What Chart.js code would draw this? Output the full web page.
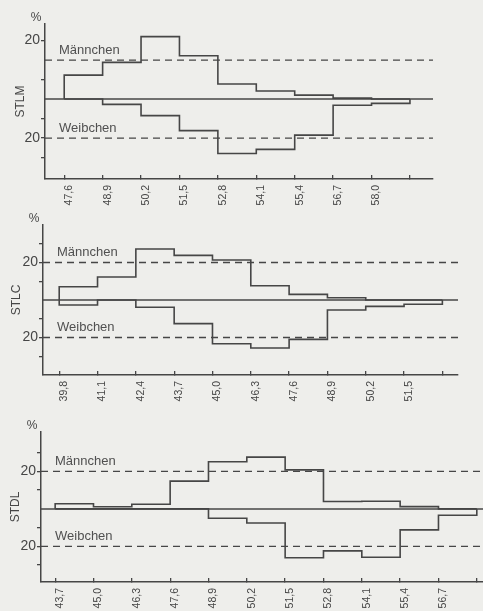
<!DOCTYPE html>
<html>
<head>
<meta charset="utf-8">
<script src="https://cdn.jsdelivr.net/npm/chart.js@4"></script>
<style>
  body { margin: 0; background: #eeeeeb; }
  #wrap { position: relative; width: 483px; height: 611px; }
  canvas { position: absolute; left: 0; top: 0; }
</style>
</head>
<body>
<div id="wrap">
  <canvas id="stlm" width="483" height="611"></canvas>
  <canvas id="stlc" width="483" height="611"></canvas>
  <canvas id="stdl" width="483" height="611"></canvas>
</div>
<script>
// bin edges / x tick values (measurement classes)
var stlmTickValues = [47.6, 48.9, 50.2, 51.5, 52.8, 54.1, 55.4, 56.7, 58.0, 59.3];
var stlmTickLabels = ["47,6", "48,9", "50,2", "51,5", "52,8", "54,1", "55,4", "56,7", "58,0", ""];
var stlmMale = [12.3, 18.8, 32.0, 22.2, 7.7, 4.1, 2.0, 0.5, 0];
var stlmFemale = [0, 2.7, 8.5, 16.2, 27.9, 25.8, 18.5, 3.2, 2.2];

var stlcTickValues = [39.8, 41.1, 42.4, 43.7, 45.0, 46.3, 47.6, 48.9, 50.2, 51.5, 52.8];
var stlcTickLabels = ["39,8", "41,1", "42,4", "43,7", "45,0", "46,3", "47,6", "48,9", "50,2", "51,5", ""];
var stlcMale = [7.1, 12.3, 27.2, 23.8, 21.3, 7.6, 3.0, 1.2, 0, 0];
var stlcFemale = [2.7, 0, 3.9, 12.6, 23.3, 25.6, 21.0, 5.3, 3.4, 2.3];

var stdlTickValues = [43.7, 45.0, 46.3, 47.6, 48.9, 50.2, 51.5, 52.8, 54.1, 55.4, 56.7, 58.0];
var stdlTickLabels = ["43,7", "45,0", "46,3", "47,6", "48,9", "50,2", "51,5", "52,8", "54,1", "55,4", "56,7", ""];
var stdlMale = [2.7, 1.1, 2.5, 14.8, 25.1, 27.6, 20.8, 3.9, 4.1, 1.2, 0];
var stdlFemale = [0, 0, 0, 0, 5.0, 7.5, 26.1, 22.4, 25.8, 11.2, 3.4];

// y ticks: males up, females down
var stlmYTicks = [30, 10, -10, -20, -30];
var stlmYLabels = ["20", "", "", "20", ""];
var yTicks = [30, 20, 10, -10, -20, -30];
var yLabels = ["", "20", "", "", "20", ""];

var refLevel = 20;
var seriesNames = ["Männchen", "Weibchen"];

var ink = "#464646";
Chart.defaults.font.family = "'Liberation Sans', Arial, sans-serif";
Chart.defaults.color = ink;

// outline of a step histogram: up at first edge, down at last edge
function outline(edges, values, sign) {
  var pts = [{ x: edges[0], y: 0 }];
  for (var i = 0; i < values.length; i++) {
    pts.push({ x: edges[i], y: sign * values[i] });
  }
  pts.push({ x: edges[values.length], y: 0 });
  return pts;
}

function flat(xmin, xmax, y) {
  return [{ x: xmin, y: y }, { x: xmax, y: y }];
}

var labelsPlugin = {
  id: "panelText",
  afterDraw: function (chart) {
    var ctx = chart.ctx;
    var a = chart.chartArea;
    var y = chart.scales.y;
    ctx.save();
    ctx.fillStyle = ink;
    ctx.textBaseline = "middle";
    ctx.textAlign = "center";
    ctx.font = "12px 'Liberation Sans', Arial, sans-serif";
    ctx.fillText("%", a.left - 9, a.top - 6);
    ctx.textAlign = "left";
    ctx.font = "13px 'Liberation Sans', Arial, sans-serif";
    ctx.fillStyle = "#505050";
    ctx.fillText(seriesNames[0], a.left + 14, y.getPixelForValue(refLevel) - 10);
    ctx.fillText(seriesNames[1], a.left + 14, y.getPixelForValue(-refLevel) - 10);
    ctx.restore();
  }
};

function panel(id, title, p, ticks, tickLabels, male, female, yt, yl) {
  new Chart(id, {
    type: "line",
    data: {
      datasets: [
        { data: flat(p.xmin, p.xmax, 0), borderColor: ink, borderWidth: 1.5 },
        { data: flat(p.xmin, p.xmax, refLevel), borderColor: ink, borderWidth: 1.3, borderDash: [7, 5] },
        { data: flat(p.xmin, p.xmax, -refLevel), borderColor: ink, borderWidth: 1.3, borderDash: [7, 5] },
        { data: outline(ticks, male, 1), borderColor: ink, borderWidth: 1.6, stepped: "before" },
        { data: outline(ticks, female, -1), borderColor: ink, borderWidth: 1.6, stepped: "before" },
      ],
    },
    options: {
      responsive: false,
      animation: false,
      devicePixelRatio: 1,
      elements: { point: { radius: 0 } },
      layout: { padding: { top: p.top, left: 0, right: 483 - p.right, bottom: 0 } },
      plugins: { legend: { display: false }, tooltip: { enabled: false } },
      scales: {
        x: {
          type: "linear",
          min: p.xmin,
          max: p.xmax,
          afterBuildTicks: function (s) {
            s.ticks = ticks.map(function (v) { return { value: v }; });
          },
          afterFit: function (s) {
            s.height = 611 - p.bottom;
            s.paddingLeft = 0;
            s.paddingRight = 0;
          },
          ticks: {
            autoSkip: false,
            minRotation: 90,
            maxRotation: 90,
            padding: 10,
            labelOffset: 5,
            font: { size: 10.5 },
            callback: function (v, i) { return tickLabels[i]; },
          },
          grid: { drawOnChartArea: false, tickLength: -4, color: ink, lineWidth: 1.3 },
          border: { color: ink, width: 1.5 },
        },
        y: {
          type: "linear",
          min: p.ymin,
          max: p.ymax,
          afterBuildTicks: function (s) {
            s.ticks = yt.map(function (v) { return { value: v }; });
          },
          afterFit: function (s) {
            s.width = p.left;
            s.paddingTop = 0;
            s.paddingBottom = 0;
          },
          ticks: {
            autoSkip: false,
            padding: 1,
            font: { size: 14 },
            callback: function (v, i) { return yl[i]; },
          },
          grid: { drawOnChartArea: false, tickLength: 4, color: ink, lineWidth: 1.3 },
          border: { color: ink, width: 1.5 },
          title: { display: true, text: title, font: { size: 12 }, padding: { top: p.titlePad } },
        },
      },
    },
    plugins: [labelsPlugin],
  });
}

panel("stlm", "STLM",
  { left: 45, right: 433, top: 24, bottom: 179, xmin: 46.95, xmax: 60.08, ymin: -41, ymax: 38.5, titlePad: 13 },
  stlmTickValues, stlmTickLabels, stlmMale, stlmFemale, stlmYTicks, stlmYLabels);

panel("stlc", "STLC",
  { left: 43, right: 458, top: 225, bottom: 375, xmin: 39.25, xmax: 53.33, ymin: -40, ymax: 40, titlePad: 9.5 },
  stlcTickValues, stlcTickLabels, stlcMale, stlcFemale, yTicks, yLabels);

panel("stdl", "STDL",
  { left: 41, right: 483, top: 432, bottom: 582, xmin: 43.22, xmax: 58.21, ymin: -39, ymax: 41, titlePad: 8 },
  stdlTickValues, stdlTickLabels, stdlMale, stdlFemale, yTicks, yLabels);
</script>
</body>
</html>
